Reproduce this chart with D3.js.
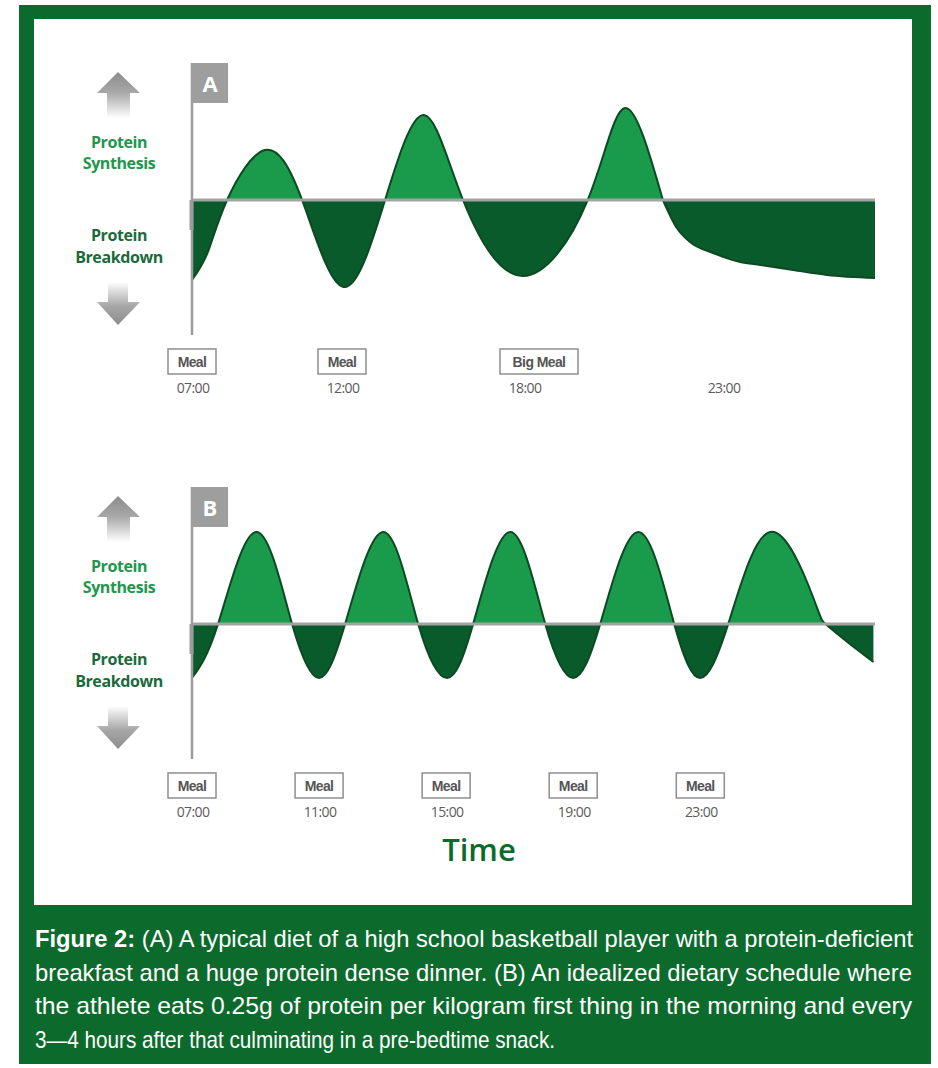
<!DOCTYPE html>
<html>
<head>
<meta charset="utf-8">
<script src="https://cdn.jsdelivr.net/npm/d3@7"></script>
<style>
  html, body { margin: 0; padding: 0; background: #ffffff; }
  svg { display: block; }
</style>
</head>
<body>
<svg id="chart" width="938" height="1068"></svg>
<script>
// ---------------- DATA ----------------
// Panel A: typical diet (hours of day, relative protein balance: + synthesis, - breakdown)
const hoursA = [7.0, 7.53, 8.17, 9.43, 10.67, 12.05, 13.42, 14.7, 15.99, 17.95, 19.6, 20.54, 21.49, 21.84, 22.17, 22.75, 23.43, 23.93, 24.75, 25.6, 26.8];
const balanceA = [-0.80, -0.52, 0, 0.50, 0, -0.87, 0, 0.85, 0, -0.76, 0, 0.92, 0, -0.28, -0.42, -0.53, -0.62, -0.65, -0.70, -0.75, -0.78];
const tailStartA = 21.49; // after the big meal the balance decays into breakdown
const mealHoursA = [7, 12, 18, 23];
const mealLabelsA = ["Meal", "Meal", "Big Meal", ""];
const timeLabelsA = ["07:00", "12:00", "18:00", "23:00"];
const axisHoursA = [7, 12, 18, 23, 26.8];

// Panel B: idealized schedule
const hoursB = [7.0, 7.82, 9.02, 10.15, 11.0, 11.82, 13.02, 14.12, 15.03, 15.85, 17.02, 18.12, 19.0, 19.85, 21.05, 22.18, 23.0, 23.88, 25.2, 26.56, 26.94, 27.63, 28.45];
const balanceB = [-0.54, 0, 0.92, 0, -0.54, 0, 0.92, 0, -0.54, 0, 0.92, 0, -0.54, 0, 0.92, 0, -0.54, 0, 0.92, 0.26, 0, -0.18, -0.38];
const tailStartB = null;
const mealHoursB = [7, 11, 15, 19, 23];
const mealLabelsB = ["Meal", "Meal", "Meal", "Meal", "Meal"];
const timeLabelsB = ["07:00", "11:00", "15:00", "19:00", "23:00"];
const axisHoursB = [7, 28.5];

const captionLines = [
  ["Figure 2:", " (A) A typical diet of a high school basketball player with a protein-deficient"],
  ["", "breakfast and a huge protein dense dinner. (B) An idealized dietary schedule where"],
  ["", "the athlete eats 0.25g of protein per kilogram first thing in the morning and every"],
  ["", "3\u20144 hours after that culminating in a pre-bedtime snack."]
];

// ---------------- STYLE ----------------
const C = {
  frame: "#0b6a2c",
  light: "#1a9b4c",
  dark: "#0a5b2b",
  stroke: "#0b4a22",
  axis: "#a3a3a3",
  synth: "#23964d",
  brk: "#1a6b3b",
  boxText: "#555555",
  timeText: "#5c5c5c"
};

const svg = d3.select("#chart");
const defs = svg.append("defs");

// frame
svg.append("rect").attr("x", 19).attr("y", 5).attr("width", 912).attr("height", 1059).attr("fill", C.frame);
svg.append("rect").attr("x", 34).attr("y", 19).attr("width", 878).attr("height", 886).attr("fill", "#ffffff");

// arrow gradients
const gUp = defs.append("linearGradient").attr("id", "gUp").attr("x1", 0).attr("y1", 0).attr("x2", 0).attr("y2", 1);
gUp.append("stop").attr("offset", "0%").attr("stop-color", "#8c8c8c");
gUp.append("stop").attr("offset", "45%").attr("stop-color", "#a8a8a8");
gUp.append("stop").attr("offset", "100%").attr("stop-color", "#ffffff");
const gDn = defs.append("linearGradient").attr("id", "gDn").attr("x1", 0).attr("y1", 0).attr("x2", 0).attr("y2", 1);
gDn.append("stop").attr("offset", "0%").attr("stop-color", "#ffffff");
gDn.append("stop").attr("offset", "55%").attr("stop-color", "#a8a8a8");
gDn.append("stop").attr("offset", "100%").attr("stop-color", "#8c8c8c");

function panel(opts) {
  const { top, hours, balance, tailStart, axisHours, axisRange, meals, mealLabels, timeLabels, letter, id } = opts;
  const x = d3.scaleLinear().domain(axisHours).range(axisRange);
  const y = d3.scaleLinear().domain([-1, 1]).range([top + 237, top + 37]);
  const base = y(0);
  const pts = hours.map((h, i) => [h, balance[i]]);
  const g = svg.append("g");

  // oscillating part (natural spline) and decay tail (monotone)
  const segs = [];
  if (tailStart != null) {
    segs.push({ data: pts.filter(d => d[0] <= tailStart), curve: d3.curveNatural });
    segs.push({ data: pts.filter(d => d[0] >= tailStart), curve: d3.curveMonotoneX });
  } else {
    segs.push({ data: pts, curve: d3.curveNatural });
  }

  // clips
  defs.append("clipPath").attr("id", "above" + id).append("rect")
    .attr("x", 0).attr("y", 0).attr("width", 938).attr("height", base);
  defs.append("clipPath").attr("id", "below" + id).append("rect")
    .attr("x", 0).attr("y", base).attr("width", 938).attr("height", 600);

  segs.forEach(s => {
    const area = d3.area().x(d => x(d[0])).y0(base).y1(d => y(d[1])).curve(s.curve);
    g.append("path").datum(s.data).attr("d", area).attr("fill", C.light).attr("clip-path", `url(#above${id})`);
    g.append("path").datum(s.data).attr("d", area).attr("fill", C.dark).attr("clip-path", `url(#below${id})`);
  });
  segs.forEach(s => {
    const line = d3.line().x(d => x(d[0])).y(d => y(d[1])).curve(s.curve);
    g.append("path").datum(s.data).attr("d", line).attr("fill", "none").attr("stroke", C.stroke).attr("stroke-width", 2);
  });

  // baseline
  g.append("line").attr("x1", axisRange[0]).attr("x2", axisRange[axisRange.length - 1])
    .attr("y1", base).attr("y2", base).attr("stroke", C.axis).attr("stroke-width", 3);

  // vertical axis
  const x0 = axisRange[0];
  g.append("line").attr("x1", x0).attr("x2", x0).attr("y1", top).attr("y2", top + 272)
    .attr("stroke", "#9c9c9c").attr("stroke-width", 2.5);
  g.append("rect").attr("x", x0 - 2.5).attr("y", base).attr("width", 4).attr("height", 30).attr("fill", "#9c9c9c");

  // letter box
  g.append("rect").attr("x", x0).attr("y", top).attr("width", 36).attr("height", 40).attr("fill", "#9e9e9e");
  g.append("text").attr("x", x0 + 18).attr("y", top + 29).attr("text-anchor", "middle")
    .attr("font-family", "Open Sans, sans-serif").attr("font-weight", 700).attr("font-size", 22)
    .attr("fill", "#ffffff").text(letter);

  // side labels and arrows
  const ax = 118;
  g.append("path").attr("d", `M${ax},${top + 9} L${ax + 22},${top + 30} L${ax + 12},${top + 30} L${ax + 12},${top + 55} L${ax - 11},${top + 55} L${ax - 11},${top + 30} L${ax - 21},${top + 30} Z`)
    .attr("fill", "url(#gUp)");
  g.append("path").attr("d", `M${ax - 10},${top + 219} L${ax + 10},${top + 219} L${ax + 10},${top + 239} L${ax + 22},${top + 239} L${ax},${top + 262} L${ax - 21},${top + 239} L${ax - 10},${top + 239} Z`)
    .attr("fill", "url(#gDn)");

  const lab = (txt, yy, col) => g.append("text").attr("x", 119).attr("y", yy).attr("text-anchor", "middle")
    .attr("font-family", "Open Sans, sans-serif").attr("font-weight", 700).attr("font-size", 16)
    .attr("letter-spacing", -0.4).attr("fill", col).text(txt);
  lab("Protein", top + 85, C.synth);
  lab("Synthesis", top + 106, C.synth);
  lab("Protein", top + 178, C.brk);
  lab("Breakdown", top + 200, C.brk);

  // meal boxes and time labels
  meals.forEach((h, i) => {
    const cx = x(h);
    if (mealLabels[i]) {
      const w = mealLabels[i].length > 4 ? 78 : 48;
      g.append("rect").attr("x", cx - 24).attr("y", top + 286).attr("width", w).attr("height", 25)
        .attr("fill", "#ffffff").attr("stroke", "#8e8e8e").attr("stroke-width", 1.5);
      g.append("text").attr("x", cx - 24 + w / 2).attr("y", top + 304).attr("text-anchor", "middle")
        .attr("font-family", "Liberation Sans Narrow, Liberation Sans, Arial, sans-serif").attr("font-weight", 700)
        .attr("font-size", 14).attr("letter-spacing", -0.6).attr("fill", C.boxText).text(mealLabels[i]);
    }
    g.append("text").attr("x", cx + 1).attr("y", top + 330).attr("text-anchor", "middle")
      .attr("font-family", "Open Sans, sans-serif").attr("font-size", 14).attr("letter-spacing", -0.6)
      .attr("fill", C.timeText).text(timeLabels[i]);
  });
}

panel({ id: "A", top: 63, hours: hoursA, balance: balanceA, tailStart: tailStartA, axisHours: axisHoursA,
  axisRange: [192, 342, 524, 723, 875], meals: mealHoursA, mealLabels: mealLabelsA, timeLabels: timeLabelsA, letter: "A" });
panel({ id: "B", top: 487, hours: hoursB, balance: balanceB, tailStart: tailStartB, axisHours: axisHoursB,
  axisRange: [192, 875], meals: mealHoursB, mealLabels: mealLabelsB, timeLabels: timeLabelsB, letter: "B" });

// Time title
svg.append("text").attr("x", 479).attr("y", 861).attr("text-anchor", "middle")
  .attr("font-family", "Open Sans, sans-serif").attr("font-weight", 600).attr("font-size", 31)
  .attr("fill", "#0c6a2d").text("Time");

// caption
const capW = [878, 877, 877, 520];
captionLines.forEach((ln, i) => {
  const t = svg.append("text").attr("x", 35).attr("y", 947 + i * 33.7)
    .attr("font-family", "Liberation Sans Narrow, Liberation Sans, Arial, sans-serif")
    .attr("font-size", 24).attr("fill", "#ffffff")
    .attr("textLength", capW[i]).attr("lengthAdjust", "spacingAndGlyphs");
  if (ln[0]) t.append("tspan").attr("font-weight", 700).text(ln[0]);
  t.append("tspan").text(ln[1]);
});
</script>
</body>
</html>
